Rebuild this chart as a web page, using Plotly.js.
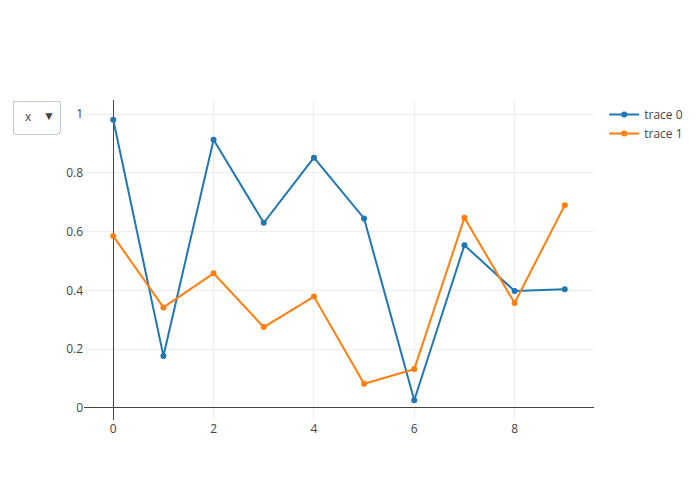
<!DOCTYPE html>
<html>
<head>
<meta charset="utf-8">
<script src="https://cdn.plot.ly/plotly-3.0.1.min.js"></script>
<style>html,body{margin:0;padding:0;}#chart{width:700px;height:500px;}</style>
</head>
<body>
<div id="chart"></div>
<script>
const xValues = [0, 1, 2, 3, 4, 5, 6, 7, 8, 9];
const trace0Values = [0.981, 0.177, 0.913, 0.630, 0.852, 0.645, 0.026, 0.554, 0.398, 0.404];
const trace1Values = [0.585, 0.342, 0.458, 0.275, 0.379, 0.082, 0.132, 0.647, 0.357, 0.690];
const traceNames = ['trace 0', 'trace 1'];
const menuLabels = ['x'];

const data = [
  {x: xValues, y: trace0Values, name: traceNames[0], type: 'scatter', mode: 'lines+markers'},
  {x: xValues, y: trace1Values, name: traceNames[1], type: 'scatter', mode: 'lines+markers'}
];
const layout = {
  width: 700, height: 500,
  updatemenus: [{
    buttons: menuLabels.map(l => ({label: l, method: 'restyle', args: ['visible', true]}))
  }]
};
Plotly.newPlot('chart', data, layout, {displayModeBar: false});
</script>
</body>
</html>
